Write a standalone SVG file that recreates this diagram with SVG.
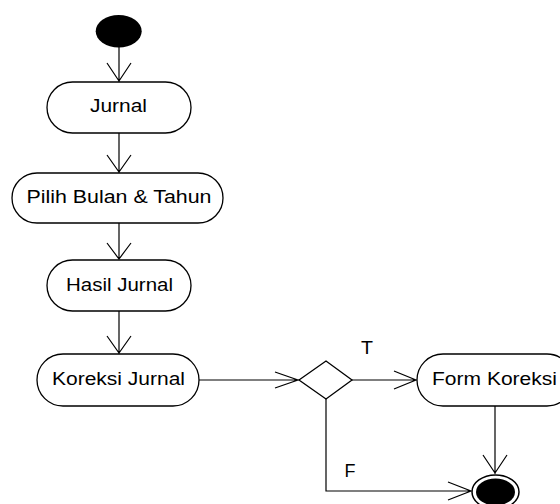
<svg xmlns="http://www.w3.org/2000/svg" width="560" height="504" viewBox="0 0 560 504">
<style>
.node{fill:#fff;stroke:#000;stroke-width:1.3}
.lbl{font-family:"Liberation Sans",Arial,sans-serif;font-size:17.5px;fill:#000;text-anchor:middle}
.edge{fill:none;stroke:#000;stroke-width:1.2}
</style>
<rect width="560" height="504" fill="#fff"/>
<g id="start"><ellipse cx="118.7" cy="31.3" rx="23" ry="16.3" fill="#000"/></g>
<g id="jurnal"><rect class="node" x="47" y="82" width="144" height="51" rx="25.5"/><text class="lbl" x="118.5" y="112" textLength="57" lengthAdjust="spacingAndGlyphs">Jurnal</text></g>
<g id="pilih"><rect class="node" x="12" y="173" width="211" height="50" rx="25"/><text class="lbl" x="119" y="203" textLength="185" lengthAdjust="spacingAndGlyphs">Pilih Bulan &amp; Tahun</text></g>
<g id="hasil"><rect class="node" x="47" y="260" width="144" height="51" rx="25.5"/><text class="lbl" x="119.5" y="291" textLength="107" lengthAdjust="spacingAndGlyphs">Hasil Jurnal</text></g>
<g id="koreksi"><rect class="node" x="37" y="354" width="162" height="52" rx="26"/><text class="lbl" x="118.5" y="385" textLength="133" lengthAdjust="spacingAndGlyphs">Koreksi Jurnal</text></g>
<g id="decision"><polygon class="node" points="299,380 326,361 352,380 326,399"/></g>
<g id="form"><rect class="node" x="417" y="354" width="156" height="52" rx="26"/><text class="lbl" x="494.5" y="385" textLength="125" lengthAdjust="spacingAndGlyphs">Form Koreksi</text></g>
<g id="end"><ellipse cx="495.5" cy="492" rx="23.5" ry="17" fill="#fff" stroke="#000" stroke-width="1.5"/><ellipse cx="495.5" cy="492" rx="19.5" ry="13.5" fill="#000"/></g>
<g id="connectors">
<path class="edge" d="M119,47 V82 M107,63 L119,81 L131,63"/>
<path class="edge" d="M119,133 V173 M107,155 L119,172 L131,155"/>
<path class="edge" d="M119,223 V260 M107,243 L119,259 L131,243"/>
<path class="edge" d="M119,311 V354 M107,336 L119,353 L131,336"/>
<path class="edge" d="M199,380 H299 M275,372 L298,380 L275,388"/>
<path class="edge" d="M352,380 H417 M394,371 L416,380 L394,389"/>
<path class="edge" d="M495,406 V474 M483,455 L495,473 L507,455"/>
<path class="edge" d="M326,399 V491 H472 M448,482 L471,491 L448,500"/>
<text class="lbl" x="367" y="354" textLength="12" lengthAdjust="spacingAndGlyphs">T</text>
<text class="lbl" x="350" y="477" textLength="11" lengthAdjust="spacingAndGlyphs">F</text>
</g>
</svg>
